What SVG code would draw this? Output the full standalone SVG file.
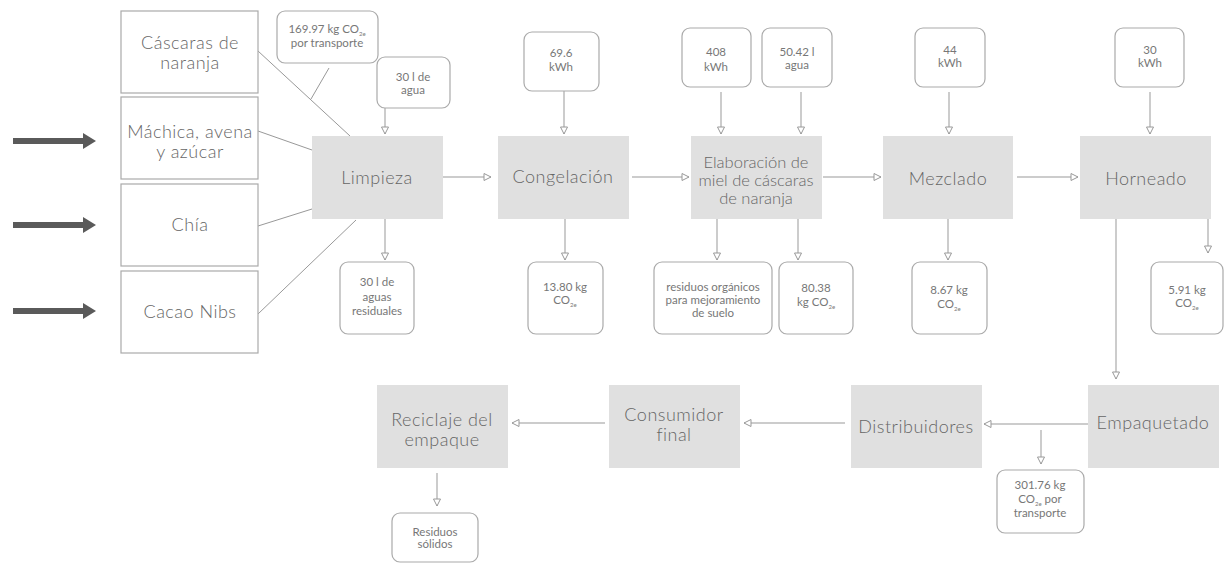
<svg xmlns="http://www.w3.org/2000/svg" width="1224" height="563" viewBox="0 0 1224 563">
<defs>
<style>
.in{fill:#fff;stroke:#aaa;stroke-width:1.2}
.pr{fill:#e0e0e0;stroke:none}
.rb{fill:#fff;stroke:#aaa;stroke-width:1.2}
.t{font-family:Lato,"Noto Sans",sans-serif;font-size:18px;font-weight:300;fill:#666;text-anchor:middle;letter-spacing:0.5px}
.e{font-size:16.5px;letter-spacing:0}
.s{font-family:Lato,"Noto Sans",sans-serif;font-size:11.5px;font-weight:400;fill:#777;text-anchor:middle}
.sub{font-size:6px}
.c{stroke:#999;stroke-width:1;fill:none}
.ca{stroke:#999;stroke-width:1;fill:none;marker-end:url(#ah)}
.big{stroke:#5a5a5a;stroke-width:6;fill:none}
</style>
<marker id="ah" markerUnits="userSpaceOnUse" markerWidth="9" markerHeight="9" viewBox="0 0 9 9" refX="8" refY="4.5" orient="auto">
<path d="M1,1 L8,4.5 L1,8 Z" fill="#fff" stroke="#999" stroke-width="1"/>
</marker>
</defs>

<g id="connectors">
<line class="big" x1="13" y1="141" x2="85" y2="141"/>
<polygon points="83,133 96,141 83,149" fill="#5a5a5a"/>
<line class="big" x1="13" y1="225" x2="85" y2="225"/>
<polygon points="83,217 96,225 83,233" fill="#5a5a5a"/>
<line class="big" x1="13" y1="311" x2="85" y2="311"/>
<polygon points="83,303 96,311 83,319" fill="#5a5a5a"/>

<line class="c" x1="258" y1="51" x2="350" y2="136"/>
<line class="c" x1="329" y1="68" x2="311" y2="99"/>
<line class="c" x1="258" y1="131" x2="312" y2="150"/>
<line class="c" x1="258" y1="226" x2="312" y2="209"/>
<line class="c" x1="258" y1="314" x2="356" y2="220"/>

<line class="ca" x1="385" y1="108" x2="385" y2="134"/>
<line class="ca" x1="385" y1="219" x2="385" y2="260"/>
<line class="ca" x1="443" y1="177" x2="491" y2="177"/>

<line class="ca" x1="564" y1="91" x2="564" y2="134"/>
<line class="ca" x1="565" y1="219" x2="565" y2="260"/>
<line class="ca" x1="632" y1="177" x2="689" y2="177"/>

<line class="ca" x1="721" y1="92" x2="721" y2="134"/>
<line class="ca" x1="801" y1="92" x2="801" y2="134"/>
<line class="ca" x1="717" y1="219" x2="717" y2="260"/>
<line class="ca" x1="798" y1="219" x2="798" y2="260"/>
<line class="ca" x1="823" y1="177" x2="881" y2="177"/>

<line class="ca" x1="949" y1="92" x2="949" y2="134"/>
<line class="ca" x1="948" y1="219" x2="948" y2="260"/>
<line class="ca" x1="1017" y1="177" x2="1078" y2="177"/>

<line class="ca" x1="1150" y1="92" x2="1150" y2="134"/>
<line class="ca" x1="1208" y1="219" x2="1208" y2="253"/>
<line class="ca" x1="1116" y1="219" x2="1116" y2="379"/>

<line class="ca" x1="1088" y1="424" x2="984" y2="424"/>
<line class="ca" x1="1041" y1="430" x2="1041" y2="464"/>
<line class="ca" x1="845" y1="423" x2="744" y2="423"/>
<line class="ca" x1="605" y1="423" x2="512" y2="423"/>
<line class="ca" x1="437" y1="473" x2="437" y2="506"/>
</g>

<g id="n-cascaras"><rect class="in" x="121" y="11" width="137" height="82"/>
<text class="t" x="190" y="49">Cáscaras de</text><text class="t" x="190" y="69">naranja</text></g>
<g id="n-machica"><rect class="in" x="121" y="97" width="137" height="82"/>
<text class="t" x="190" y="138">Máchica, avena</text><text class="t" x="190" y="158">y azúcar</text></g>
<g id="n-chia"><rect class="in" x="121" y="184" width="137" height="82"/>
<text class="t" x="190" y="231">Chía</text></g>
<g id="n-cacao"><rect class="in" x="121" y="271" width="137" height="82"/>
<text class="t" x="190" y="318">Cacao Nibs</text></g>

<g id="n-transporte1"><rect class="rb" x="277" y="11" width="101" height="52" rx="8"/>
<text class="s" x="327" y="33">169.97 kg CO<tspan class="sub" dy="3">2e</tspan></text>
<text class="s" x="327" y="47">por transporte</text></g>
<g id="n-agua1"><rect class="rb" x="377" y="57" width="73" height="51" rx="8"/>
<text class="s" x="413" y="81">30 l de</text><text class="s" x="413" y="94">agua</text></g>

<g id="n-limpieza"><rect class="pr" x="312" y="136" width="131" height="83"/>
<text class="t" x="377" y="184">Limpieza</text></g>
<g id="n-aguasres"><rect class="rb" x="340" y="262" width="74" height="72" rx="8"/>
<text class="s" x="377" y="286">30 l de</text><text class="s" x="377" y="301">aguas</text><text class="s" x="377" y="315">residuales</text></g>

<g id="n-kwh1"><rect class="rb" x="524" y="32" width="75" height="59" rx="8"/>
<text class="s" x="561" y="57">69.6</text><text class="s" x="561" y="71">kWh</text></g>
<g id="n-congelacion"><rect class="pr" x="498" y="136" width="131" height="83"/>
<text class="t" x="563" y="183">Congelación</text></g>
<g id="n-co2-1"><rect class="rb" x="528" y="262" width="75" height="72" rx="8"/>
<text class="s" x="565" y="291">13.80 kg</text><text class="s" x="565" y="304">CO<tspan class="sub" dy="3">2e</tspan></text></g>

<g id="n-kwh2"><rect class="rb" x="682" y="28" width="69" height="59" rx="8"/>
<text class="s" x="716" y="56">408</text><text class="s" x="716" y="71">kWh</text></g>
<g id="n-agua2"><rect class="rb" x="762" y="28" width="70" height="59" rx="8"/>
<text class="s" x="797" y="56">50.42 l</text><text class="s" x="797" y="69">agua</text></g>
<g id="n-elaboracion"><rect class="pr" x="691" y="136" width="131" height="83"/>
<text class="t e" x="756" y="168">Elaboración de</text>
<text class="t e" x="756" y="186">miel de cáscaras</text>
<text class="t e" x="756" y="204">de naranja</text></g>
<g id="n-residuosorg"><rect class="rb" x="654" y="262" width="118" height="72" rx="8"/>
<text class="s" x="713" y="291">residuos orgánicos</text><text class="s" x="713" y="304">para mejoramiento</text><text class="s" x="713" y="317">de suelo</text></g>
<g id="n-co2-2"><rect class="rb" x="779" y="262" width="74" height="72" rx="8"/>
<text class="s" x="816" y="292">80.38</text><text class="s" x="816" y="306">kg CO<tspan class="sub" dy="3">2e</tspan></text></g>

<g id="n-kwh3"><rect class="rb" x="915" y="28" width="70" height="59" rx="8"/>
<text class="s" x="950" y="54">44</text><text class="s" x="950" y="67">kWh</text></g>
<g id="n-mezclado"><rect class="pr" x="883" y="136" width="130" height="83"/>
<text class="t" x="948" y="185">Mezclado</text></g>
<g id="n-co2-3"><rect class="rb" x="912" y="262" width="75" height="72" rx="8"/>
<text class="s" x="949" y="294">8.67 kg</text><text class="s" x="949" y="308">CO<tspan class="sub" dy="3">2e</tspan></text></g>

<g id="n-kwh4"><rect class="rb" x="1115" y="28" width="69" height="59" rx="8"/>
<text class="s" x="1150" y="54">30</text><text class="s" x="1150" y="67">kWh</text></g>
<g id="n-horneado"><rect class="pr" x="1080" y="136" width="131" height="83"/>
<text class="t" x="1146" y="185">Horneado</text></g>
<g id="n-co2-4"><rect class="rb" x="1151" y="262" width="72" height="72" rx="8"/>
<text class="s" x="1187" y="294">5.91 kg</text><text class="s" x="1187" y="307">CO<tspan class="sub" dy="3">2e</tspan></text></g>

<g id="n-empaquetado"><rect class="pr" x="1088" y="385" width="131" height="83"/>
<text class="t" x="1153" y="429">Empaquetado</text></g>
<g id="n-distribuidores"><rect class="pr" x="851" y="385" width="131" height="83"/>
<text class="t" x="916" y="433">Distribuidores</text></g>
<g id="n-transporte2"><rect class="rb" x="997" y="470" width="87" height="63" rx="8"/>
<text class="s" x="1040" y="489">301.76 kg</text>
<text class="s" x="1040" y="503">CO<tspan class="sub" dy="3">2e</tspan><tspan dy="-3"> por</tspan></text>
<text class="s" x="1040" y="517">transporte</text></g>
<g id="n-consumidor"><rect class="pr" x="609" y="385" width="131" height="83"/>
<text class="t" x="674" y="421">Consumidor</text><text class="t" x="674" y="441">final</text></g>
<g id="n-reciclaje"><rect class="pr" x="377" y="385" width="131" height="83"/>
<text class="t" x="442" y="426">Reciclaje del</text><text class="t" x="442" y="446">empaque</text></g>
<g id="n-residuossol"><rect class="rb" x="392" y="513" width="86" height="49" rx="8"/>
<text class="s" x="435" y="536">Residuos</text><text class="s" x="435" y="548">sólidos</text></g>
</svg>
